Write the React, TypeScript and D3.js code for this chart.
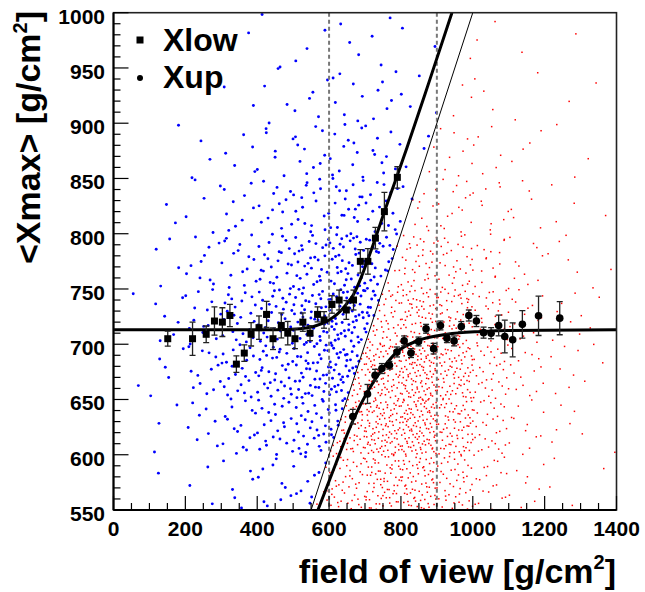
import React from 'react';
import * as d3 from 'd3';

const W = 645, H = 592;
const PL = 113.5, PR = 616.5, PT = 12.7, PB = 510;

// Axis ticks
const xTickLabels = [0, 200, 400, 600, 800, 1000, 1200, 1400];
const yTickLabels = [550, 600, 650, 700, 750, 800, 850, 900, 950, 1000];

// Xlow profile (squares)
const xlowX = [151, 220, 258, 281, 303, 324, 342, 364, 383, 405, 426, 444, 467, 485, 505, 527, 547, 568, 586, 608, 628, 648, 668, 687, 708, 729, 754, 790];
const xlowY = [705, 705, 709, 721, 720, 726, 682, 692, 709, 715, 727, 705, 717, 710, 705, 720, 710, 727, 722, 736, 740, 731, 740, 775, 775, 796, 820, 851];
const xlowErr = [6.8, 15, 7.5, 12.8, 13, 10, 7.5, 7.5, 10.6, 10.6, 11.8, 9.8, 11.3, 10.6, 9, 8.3, 6.8, 6.8, 7.5, 7.9, 9, 8.5, 9, 10.6, 11.6, 9.8, 17.4, 9.8];

// Xup profile (circles)
const xupX = [666, 707, 728, 747, 768, 789, 809, 828, 849, 870, 891, 910, 928, 948, 968, 989, 1010, 1030, 1051, 1072, 1089, 1111, 1138, 1183, 1242];
const xupY = [634.5, 655, 672, 678, 681, 693, 703, 692, 702.5, 714, 696, 717, 705.5, 703, 716, 726, 721, 710.5, 710, 717, 707, 704, 718, 725.7, 723.6];
const xupErr = [6.6, 8.6, 5.3, 4.5, 3.5, 4.5, 4.5, 4, 4, 4, 4.8, 4, 4, 4.5, 4.5, 5, 5, 5, 5, 9.4, 14.8, 15.4, 12.5, 17.8, 15];

// Fit curves
const fitLowX = [0, 450, 520, 557, 600, 622, 650, 668, 690, 705, 728, 752, 789, 817, 880, 942];
const fitLowY = [713, 713, 714, 716, 722, 727, 737, 745, 761, 774, 795, 818, 852, 878, 939, 1000];
const fitUpX = [569, 620, 668, 707, 747, 789, 849, 928, 1021, 1100, 1400];
const fitUpY = [550, 593, 632, 657, 677, 693, 703.5, 709, 711.5, 712.5, 713];

// Diagonal Xmax = FOV
const diagX = [550, 1000];
const diagY = [550, 1000];

// FOV cuts
const fovCuts = [600, 900];

// Approximate scatter densities: counts per cell
// cells: x in 100-wide bins (0..1400), rows y in 50-wide bins from 550 upward
const blueCounts = [
  [0, 1, 3, 6, 10, 10, 0, 0, 0, 0, 0, 0, 0, 0],
  [0, 3, 8, 15, 22, 28, 10, 0, 0, 0, 0, 0, 0, 0],
  [1, 5, 13, 22, 32, 40, 38, 0, 0, 0, 0, 0, 0, 0],
  [1, 6, 14, 22, 30, 42, 50, 12, 0, 0, 0, 0, 0, 0],
  [0, 4, 10, 15, 22, 30, 38, 24, 0, 0, 0, 0, 0, 0],
  [0, 2, 5, 9, 13, 17, 20, 16, 2, 0, 0, 0, 0, 0],
  [0, 1, 3, 5, 7, 10, 12, 10, 3, 0, 0, 0, 0, 0],
  [0, 0, 1, 2, 4, 5, 7, 6, 4, 0, 0, 0, 0, 0],
  [0, 0, 0, 1, 2, 3, 3, 3, 2, 0, 0, 0, 0, 0],
];
const redCounts = [
  [0, 0, 0, 0, 0, 5, 45, 70, 70, 45, 20, 8, 3, 1],
  [0, 0, 0, 0, 0, 0, 50, 100, 110, 70, 30, 12, 5, 2],
  [0, 0, 0, 0, 0, 0, 15, 90, 110, 75, 35, 15, 7, 3],
  [0, 0, 0, 0, 0, 0, 0, 40, 70, 55, 30, 15, 7, 3],
  [0, 0, 0, 0, 0, 0, 0, 5, 35, 30, 18, 10, 5, 2],
  [0, 0, 0, 0, 0, 0, 0, 0, 10, 15, 10, 6, 3, 1],
  [0, 0, 0, 0, 0, 0, 0, 0, 2, 8, 6, 4, 2, 1],
  [0, 0, 0, 0, 0, 0, 0, 0, 0, 3, 3, 2, 1, 1],
  [0, 0, 0, 0, 0, 0, 0, 0, 0, 1, 2, 1, 1, 0],
];

// deterministic low-discrepancy (Halton) placement inside each cell
function halton(i: number, b: number) {
  let f = 1, r = 0;
  while (i > 0) { f /= b; r += f * (i % b); i = Math.floor(i / b); }
  return r;
}
function spread(counts: number[][], above: boolean, start: number) {
  const pts: [number, number][] = [];
  let k = start;
  counts.forEach((row, ri) => row.forEach((n, ci) => {
    let got = 0, tries = 0;
    while (got < n && tries < n * 20) {
      k += 1; tries++;
      const x = ci * 100 + halton(k, 2) * 100;
      const y = 550 + ri * 50 + halton(k, 3) * 50;
      if (above ? y > x : y < x) { pts.push([x, y]); got++; }
    }
  }));
  return pts;
}
const bluePts = spread(blueCounts, true, 1);
const redPts = spread(redCounts, false, 5001);

const FONT = '"Liberation Sans", Arial, Helvetica, sans-serif';

export default function App() {
  const x = d3.scaleLinear().domain([0, 1400]).range([PL, PR]);
  const y = d3.scaleLinear().domain([550, 1000]).range([PB, PT]);
  const lowPath = d3.line<number>().curve(d3.curveMonotoneX).x((_, i) => x(fitLowX[i])).y((_, i) => y(fitLowY[i]))(fitLowX) || '';
  const upPath = d3.line<number>().curve(d3.curveMonotoneX).x((_, i) => x(fitUpX[i])).y((_, i) => y(fitUpY[i]))(fitUpX) || '';
  const xMinor = d3.range(0, 1401, 50);
  const yMinor = d3.range(550, 1001, 10);
  return (
    <svg width={W} height={H} style={{ position: 'absolute', left: 0, top: 0, background: '#fff' }} fontFamily={FONT}>
      <defs>
        <clipPath id="plot"><rect x={PL} y={PT} width={PR - PL} height={PB - PT} /></clipPath>
      </defs>
      <rect x={0} y={0} width={W} height={H} fill="#fff" />
      <g clipPath="url(#plot)">
        {redPts.map((p, i) => (
          <rect key={'r' + i} x={x(p[0]) - 0.75} y={y(p[1]) - 0.75} width={1.5} height={1.5} fill="#ff0000" />
        ))}
        {bluePts.map((p, i) => (
          <circle key={'b' + i} cx={x(p[0])} cy={y(p[1])} r={1.45} fill="#0000ff" />
        ))}
        {fovCuts.map(v => (
          <line key={v} x1={x(v)} x2={x(v)} y1={PT} y2={PB} stroke="#777" strokeWidth={2} strokeDasharray="4,3" />
        ))}
        <line x1={x(diagX[0])} y1={y(diagY[0])} x2={x(diagX[1])} y2={y(diagY[1])} stroke="#000" strokeWidth={1} />
        <path d={lowPath} fill="none" stroke="#000" strokeWidth={3} />
        <path d={upPath} fill="none" stroke="#000" strokeWidth={3} />
        {xlowX.map((v, i) => {
          const cx = x(v), y1 = y(xlowY[i] + xlowErr[i]), y2 = y(xlowY[i] - xlowErr[i]);
          return (
            <g key={'l' + i} stroke="#222" strokeWidth={1.3}>
              <line x1={cx} x2={cx} y1={y1} y2={y2} />
              <line x1={cx - 3} x2={cx + 3} y1={y1} y2={y1} />
              <line x1={cx - 3} x2={cx + 3} y1={y2} y2={y2} />
              <rect x={cx - 3.5} y={y(xlowY[i]) - 3.5} width={7} height={7} fill="#000" stroke="none" />
            </g>
          );
        })}
        {xupX.map((v, i) => {
          const cx = x(v), y1 = y(xupY[i] + xupErr[i]), y2 = y(xupY[i] - xupErr[i]);
          return (
            <g key={'u' + i} stroke="#222" strokeWidth={1.3}>
              <line x1={cx} x2={cx} y1={y1} y2={y2} />
              <line x1={cx - 3} x2={cx + 3} y1={y1} y2={y1} />
              <line x1={cx - 3} x2={cx + 3} y1={y2} y2={y2} />
              <circle cx={cx} cy={y(xupY[i])} r={3.8} fill="#000" stroke="none" />
            </g>
          );
        })}
      </g>
      {/* frame */}
      <rect x={PL} y={PT} width={PR - PL} height={PB - PT} fill="none" stroke="#222" strokeWidth={1.6} />
      <line x1={PL} x2={PL} y1={PT} y2={PB} stroke="#000" strokeWidth={2} />
      <line x1={PL} x2={PR} y1={PB} y2={PB} stroke="#000" strokeWidth={2} />
      {/* ticks */}
      {xMinor.map(v => {
        const major = v % 200 === 0;
        return <line key={'xt' + v} x1={x(v)} x2={x(v)} y1={PB} y2={PB - (major ? 14 : 7)} stroke="#000" strokeWidth={1.2} />;
      })}
      {yMinor.map(v => {
        const major = v % 50 === 0;
        return <line key={'yt' + v} x1={PL} x2={PL + (major ? 15 : 7)} y1={y(v)} y2={y(v)} stroke="#000" strokeWidth={1.2} />;
      })}
      {xTickLabels.map(v => (
        <text key={'xl' + v} x={x(v)} y={536} textAnchor="middle" fontSize={21} fontWeight="bold">{v}</text>
      ))}
      {yTickLabels.map(v => (
        <text key={'yl' + v} x={105} y={y(v) + 11} textAnchor="end" fontSize={21} fontWeight="bold">{v}</text>
      ))}
      {/* axis titles */}
      <text x={616} y={583} textAnchor="end" fontSize={34} fontWeight="bold">
        field of view [g/cm<tspan fontSize={20} dy={-14}>2</tspan><tspan dy={14}>]</tspan>
      </text>
      <text transform="translate(40,11) rotate(-90)" textAnchor="end" fontSize={34} fontWeight="bold">
        &lt;Xmax&gt; [g/cm<tspan fontSize={20} dy={-13}>2</tspan><tspan dy={13}>]</tspan>
      </text>
      {/* legend */}
      <rect x={136.5} y={36.5} width={7} height={7} fill="#000" />
      <text x={163} y={51} fontSize={32} fontWeight="bold">Xlow</text>
      <circle cx={140} cy={78} r={3} fill="#000" />
      <text x={163} y={88} fontSize={32} fontWeight="bold">Xup</text>
    </svg>
  );
}
